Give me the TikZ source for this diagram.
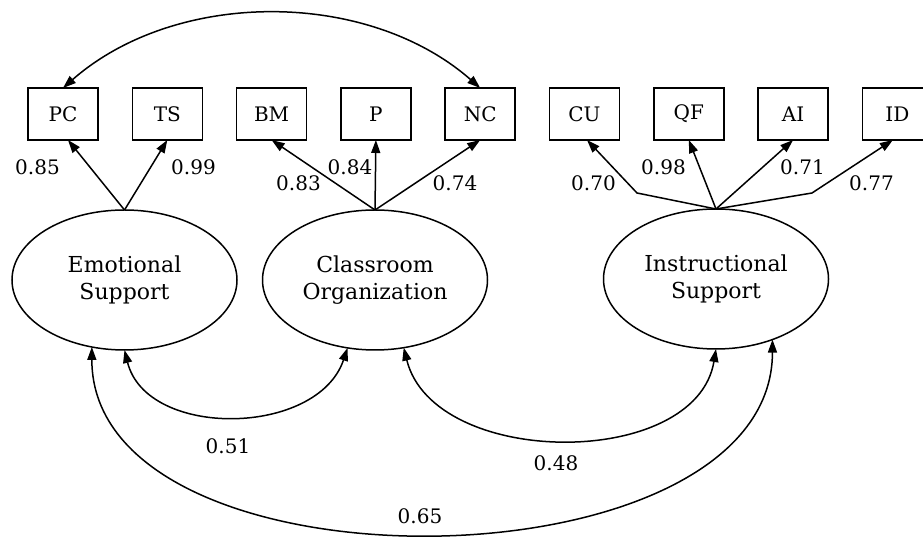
\documentclass[tikz,border=0pt]{standalone}
\usepackage{fontspec}
\setmainfont{DejaVu Serif}
\usetikzlibrary{positioning,shapes.geometric,arrows.meta}

\begin{document}
\begin{tikzpicture}[
        x=1pt, y=1pt,
        node distance=34.3pt,
        every node/.style={font=\fontsize{20}{26.7}\selectfont},
        obs/.style={rectangle, draw, line width=1.5pt, minimum width=70pt, minimum height=52pt, inner sep=0pt, outer sep=0pt},
        lat/.style={ellipse, draw, line width=1.5pt, minimum width=225pt, minimum height=140pt, inner sep=0pt, outer sep=0pt, align=center, font=\fontsize{22}{26.7}\selectfont},
        arr/.style={-{Triangle[length=13pt,width=9pt]}, line width=1.5pt},
        biarr/.style={{Triangle[length=13pt,width=9pt]}-{Triangle[length=13pt,width=9pt]}, line width=1.5pt}
    ]
    \useasboundingbox (0,0) rectangle (923,540);
    % indicators
    \node[obs] (PC) at (63,426) {PC};
    \node[obs, right=of PC] (TS) {TS};
    \node[obs, right=of TS] (BM) {BM};
    \node[obs, right=of BM] (P)  {P};
    \node[obs, right=of P]  (NC) {NC};
    \node[obs, right=of NC] (CU) {CU};
    \node[obs, right=of CU] (QF) {QF};
    \node[obs, right=of QF] (AI) {AI};
    \node[obs, right=of AI] (ID) {ID};
    % factors
    \node[lat] (ES) at (124.5,260) {Emotional\\Support};
    \node[lat] (CO) at (375,260)   {Classroom\\Organization};
    \node[lat] (IS) at (716,261)   {Instructional\\Support};
    \coordinate (CUbend) at (637,347);
    \coordinate (IDbend) at (812,347);
    % loadings
    \draw[arr] (ES.north) -- ([xshift=5pt]PC.south);
    \draw[arr] (ES.north) -- (TS.south);
    \draw[arr] (CO.north) -- (BM.south);
    \draw[arr] (CO.north) -- (P.south);
    \draw[arr] (CO.north) -- (NC.south);
    \draw[arr] (IS.north) -- (CUbend) -- ([xshift=2.5pt]CU.south);
    \draw[arr] (IS.north) -- (QF.south);
    \draw[arr] (IS.north) -- (AI.south);
    \draw[arr] (IS.north) -- (IDbend) -- ([xshift=-4.5pt]ID.south);
    \node (lPC) at (37.5,373) {0.85};
    \node (lTS) at (193.5,373) {0.99};
    \node (lBM) at (298.5,357) {0.83};
    \node (lP)  at (350,373) {0.84};
    \node (lNC) at (455,357) {0.74};
    \node (lCU) at (593.5,357) {0.70};
    \node (lQF) at (663.5,373) {0.98};
    \node (lAI) at (802.5,373) {0.71};
    \node (lID) at (871.5,357) {0.77};
    % covariances
    \draw[biarr] (PC.north) .. controls +(113,99) and +(-113,99) .. (NC.north);
    \draw[biarr] (ES.south) .. controls +(22,-89) and +(-30,-89) .. (CO.248);
    \draw[biarr] (CO.293) .. controls +(30,-121) and +(-20,-121) .. (IS.south);
    \draw[biarr] (ES.244) .. controls +(0,-253) and +(0,-253) .. (IS.313);
    \node (cESCO) at (228,94) {0.51};
    \node (cCOIS) at (556,77) {0.48};
    \node (cESIS) at (420,24) {0.65};
\end{tikzpicture}
\end{document}
